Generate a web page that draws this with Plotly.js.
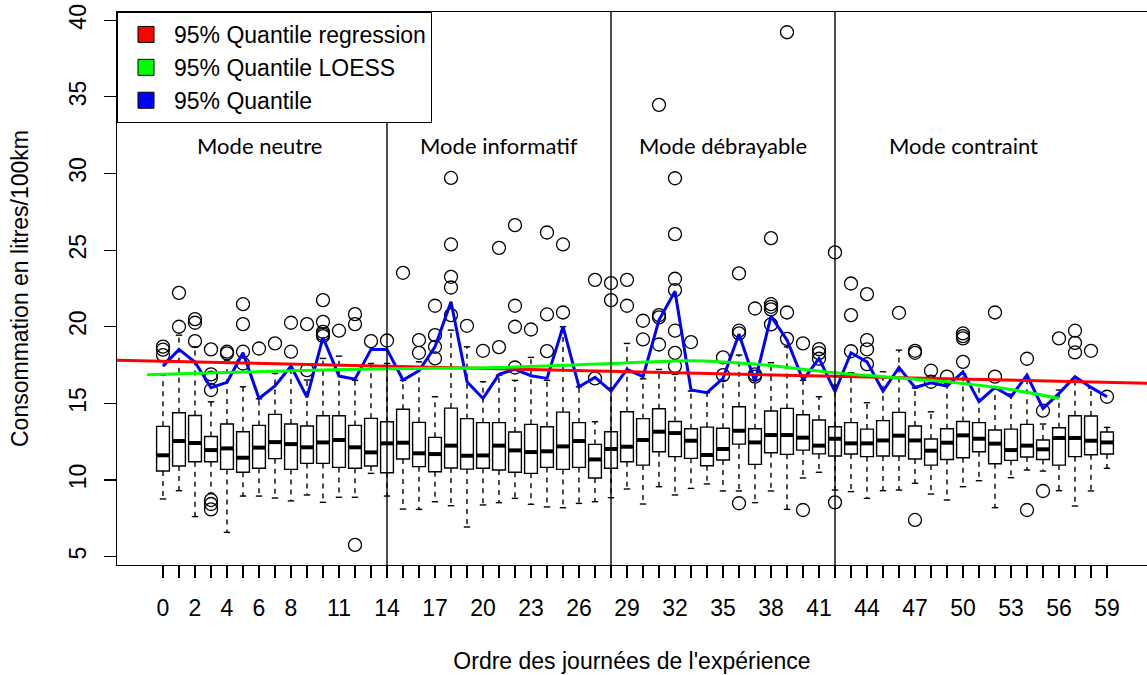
<!DOCTYPE html>
<html>
<head>
<meta charset="utf-8">
<script src="https://cdn.plot.ly/plotly-3.0.1.min.js"></script>
<style>html,body{margin:0;padding:0;background:#fff;}#chart{width:1147px;height:675px;}</style>
</head>
<body>
<div id="chart"></div>
<script>
// ---- data ----
const days = [0,1,2,3,4,5,6,7,8,9,10,11,12,13,14,15,16,17,18,19,20,21,22,23,24,25,26,27,28,29,
              30,31,32,33,34,35,36,37,38,39,40,41,42,43,44,45,46,47,48,49,50,51,52,53,54,55,56,57,58,59];
const tickLabelDays = [0,2,4,6,8,11,14,17,20,23,26,29,32,35,38,41,44,47,50,53,56,59];

const q1 = [10.58,10.91,11.19,11.19,10.69,10.50,10.76,11.39,10.69,11.08,11.08,10.82,10.76,10.91,10.47,
            11.37,10.87,10.54,10.78,10.71,10.76,10.65,10.50,10.43,10.82,10.69,10.82,10.13,10.76,11.19,
            10.97,11.84,11.52,11.41,10.93,11.30,12.34,11.02,11.78,11.67,11.95,11.70,11.56,11.69,11.52,
            11.56,11.56,11.37,10.97,11.34,11.45,11.84,11.06,11.28,11.50,11.34,10.97,11.52,11.65,11.69];
const medians = [11.61,12.54,12.41,11.95,12.06,11.45,12.11,12.47,12.34,12.13,12.45,12.61,12.13,11.80,12.39,
            12.43,11.74,11.69,12.24,11.58,11.60,12.24,11.93,11.82,11.87,12.19,12.54,11.34,12.02,12.17,
            12.61,13.15,13.06,12.56,11.63,12.02,13.21,12.45,12.93,12.93,12.76,12.24,12.69,12.39,12.39,
            12.58,12.89,12.58,11.91,12.43,12.91,12.69,12.37,11.95,12.24,12.00,12.74,12.74,12.56,12.45];
const q3 = [13.50,14.39,14.21,12.84,13.65,13.15,13.56,14.28,13.65,13.52,14.19,14.19,13.56,14.02,13.80,
            14.61,13.76,12.78,14.69,14.00,13.74,13.74,13.13,13.63,13.47,14.43,13.74,12.32,13.15,14.45,
            14.00,14.65,13.82,13.34,13.45,13.37,14.78,13.34,14.50,14.67,14.26,13.91,13.47,13.74,13.32,
            13.87,14.41,13.52,12.67,13.34,13.82,13.74,13.26,13.32,13.63,12.61,13.41,14.19,14.17,13.13];
const lowerWhisker = [8.76,9.30,7.61,9.13,6.58,8.95,8.95,8.82,8.63,9.02,8.54,8.87,8.87,10.43,8.95,
            8.10,8.08,8.58,8.32,6.93,8.37,8.52,8.80,8.41,8.24,8.19,8.47,8.58,8.84,9.41,
            8.43,9.56,9.02,9.45,9.74,9.28,9.28,8.52,9.28,8.08,10.13,10.50,9.34,9.24,8.80,
            9.30,9.34,9.78,9.08,8.69,9.56,9.95,8.19,10.15,10.65,10.58,9.30,8.30,9.28,10.76];
const upperWhisker = [16.84,19.45,18.69,15.10,17.82,16.08,15.30,16.95,17.20,16.52,17.93,18.08,16.50,17.60,17.60,
            16.50,17.71,15.43,19.78,18.69,16.41,16.84,16.50,18.00,16.50,20.00,16.08,13.80,16.00,18.91,
            16.60,17.21,16.89,15.80,15.70,16.50,18.15,16.50,17.65,18.69,16.50,15.43,16.19,17.00,15.04,
            17.06,18.47,16.00,14.45,16.30,16.90,16.19,16.00,15.60,16.60,13.65,15.87,16.60,16.00,13.43];
const quantile95 = [17.43,18.52,17.70,16.02,16.37,18.30,15.32,16.13,17.43,15.39,19.30,16.78,16.58,18.52,18.52,
            16.52,17.13,18.69,21.63,16.41,15.32,16.89,17.22,16.80,16.63,20.00,16.08,16.69,15.80,17.22,
            16.74,20.43,22.32,15.87,15.70,16.63,19.52,16.41,20.69,19.13,16.52,17.93,15.76,18.30,17.71,
            15.80,17.34,16.04,16.34,16.13,17.06,15.11,16.04,15.43,16.84,14.67,15.65,16.74,16.04,15.43];

const outlierDays = [0,0,0, 1,1, 2,2,2, 3,3,3,3,3,3,3, 4,4, 5,5,5,5, 6, 7, 8,8, 9,9, 10,10,10,10,10, 11, 12,12,12, 13, 14,
  15, 16,16, 17,17,17,17, 18,18,18,18,18, 19, 20, 21,21, 22,22,22,22, 23, 24,24,24, 25,25, 27,27, 28,28, 29,29,
  30,30, 31,31,31,31, 32,32,32,32,32,32,32, 33, 35,35, 36,36,36,36, 37,37,37, 38,38,38,38,38, 39,39,39, 40,40, 41,41,41, 42,42,
  43,43,43, 44,44,44,44, 46, 47,47,47, 48,48, 49, 50,50,50,50, 52,52, 54,54, 55,55, 56, 57,57,57, 58, 59];
const outlierValues = [18.70,18.50,18.15, 22.21,20.00, 20.50,20.26,19.06, 18.52,16.89,16.67,15.87,8.69,8.43,8.08, 18.37,18.26,
  21.47,20.17,18.37,17.60, 18.58, 18.91, 20.26,18.37, 20.17,17.17, 21.74,20.32,19.67,19.52,19.39, 19.74, 20.82,20.17,5.76, 19.06, 19.10,
  23.52, 19.13,18.30, 21.37,19.45,18.69,17.93, 29.71,25.37,23.26,22.56,20.76, 20.06, 18.43, 25.15,18.67, 26.63,21.37,20.00,17.34,
  19.82, 26.15,20.80,18.41, 25.37,20.93, 23.06,16.63, 22.85,21.74, 23.06,21.37,
  20.39,19.17, 34.48,20.76,20.61,18.84, 29.69,26.04,23.13,22.39,19.74,18.30,17.43, 19.00, 18.00,16.84, 23.48,19.74,19.56,8.48,
  21.19,16.89,16.74, 25.78,21.47,21.30,21.13,20.15, 39.22,20.93,19.21, 18.91,8.04, 18.54,18.28,17.91, 24.85,8.54,
  22.82,20.76,18.40, 22.13,19.13,18.52,17.56, 20.91, 18.43,18.30,7.39, 17.13,16.41, 16.74, 19.56,19.39,19.24,17.71, 20.93,16.74,
  17.91,8.04, 14.52,9.28, 19.24, 19.74,18.95,18.32, 18.43, 15.43];

// 95% quantile regression coefficients (intercept, slope per day)
const regIntercept = 17.75;
const regSlope = -0.0234;
// 95% quantile LOESS curve, read at several days
const loessDays = [-1, 0, 7, 14, 21, 28, 33, 37, 42, 45, 49, 53, 56];
const loessValues = [16.87, 16.90, 17.10, 17.26, 17.34, 17.60, 17.78, 17.56, 17.00, 16.74, 16.41, 15.90, 15.32];

const modeSplits = [14, 28, 42];
const modeNames = ["Mode neutre", "Mode informatif", "Mode débrayable", "Mode contraint"];
const modeLabelDays = [6, 21, 35, 50];
const modeLabelY = 31.8;

const legendNames = ["95% Quantile regression", "95% Quantile LOESS", "95% Quantile"];
const legendColors = ["#FF0000", "#00FF00", "#0000FF"];

// ---- build traces ----
const X_RANGE = [-2.875, 61.5];
const Y_RANGE = [4.45, 40.54];
const HALF_BOX = 0.4, HALF_CAP = 0.2;
const FS = 23;

const traces = [];
traces.push({
  type: 'box', x: days, q1: q1, median: medians, q3: q3,
  lowerfence: q1, upperfence: q3, boxpoints: false,
  width: 2 * HALF_BOX, fillcolor: 'white',
  line: {color: 'black', width: 1.4}, showlegend: false, hoverinfo: 'skip'
});

// dashed whiskers
const wx = [], wy = [];
days.forEach((d, i) => {
  wx.push(d, d, null, d, d, null);
  wy.push(q3[i], upperWhisker[i], null, q1[i], lowerWhisker[i], null);
});
traces.push({type: 'scatter', mode: 'lines', x: wx, y: wy, showlegend: false, hoverinfo: 'skip',
  line: {color: 'black', width: 1.4, dash: '5px,5px'}});

// staples
const cx = [], cy = [];
days.forEach((d, i) => {
  cx.push(d - HALF_CAP, d + HALF_CAP, null, d - HALF_CAP, d + HALF_CAP, null);
  cy.push(upperWhisker[i], upperWhisker[i], null, lowerWhisker[i], lowerWhisker[i], null);
});
traces.push({type: 'scatter', mode: 'lines', x: cx, y: cy, showlegend: false, hoverinfo: 'skip',
  line: {color: 'black', width: 1.4}});

// thick medians
const mx = [], my = [];
days.forEach((d, i) => { mx.push(d - HALF_BOX, d + HALF_BOX, null); my.push(medians[i], medians[i], null); });
traces.push({type: 'scatter', mode: 'lines', x: mx, y: my, showlegend: false, hoverinfo: 'skip',
  line: {color: 'black', width: 4}});

// outliers
traces.push({type: 'scatter', mode: 'markers', x: outlierDays, y: outlierValues, showlegend: false, hoverinfo: 'skip',
  marker: {symbol: 'circle-open', size: 13, color: 'black', line: {width: 1.3, color: 'black'}}});

// 95% quantile line
traces.push({type: 'scatter', mode: 'lines', x: days, y: quantile95, showlegend: false, hoverinfo: 'skip',
  line: {color: legendColors[2], width: 3}});
// regression
traces.push({type: 'scatter', mode: 'lines', x: X_RANGE,
  y: X_RANGE.map(x => regIntercept + regSlope * x), showlegend: false, hoverinfo: 'skip',
  line: {color: legendColors[0], width: 3}});
// LOESS
traces.push({type: 'scatter', mode: 'lines', x: loessDays, y: loessValues, showlegend: false, hoverinfo: 'skip',
  line: {color: legendColors[1], width: 3, shape: 'spline', smoothing: 0.8}});

// legend entries (squares)
legendNames.forEach((n, i) => {
  traces.push({type: 'scatter', mode: 'markers', x: [null], y: [null], name: n, showlegend: true,
    marker: {symbol: 'square', size: 16, color: legendColors[i], line: {color: 'black', width: 1}}});
});

const shapes = modeSplits.map(d => ({type: 'line', xref: 'x', yref: 'paper', x0: d, x1: d, y0: 0, y1: 1,
  line: {color: 'black', width: 1.4}, layer: 'above'}));

const annotations = modeNames.map((t, i) => ({x: modeLabelDays[i], y: modeLabelY, xref: 'x', yref: 'y',
  text: t, showarrow: false, font: {family: 'Lato, Open Sans, sans-serif', size: 22, color: 'black'}}));

const layout = {
  width: 1147, height: 675,
  margin: {l: 117, r: 0, t: 12, b: 110},
  paper_bgcolor: 'white', plot_bgcolor: 'white',
  font: {family: 'Liberation Sans, Arial, sans-serif', size: FS, color: 'black'},
  showlegend: true,
  legend: {x: 0, y: 1, xanchor: 'left', yanchor: 'top', bgcolor: 'white', bordercolor: 'black', borderwidth: 1,
    font: {size: FS, color: 'black'}, tracegroupgap: 0, itemwidth: 46},
  xaxis: {
    range: X_RANGE, autorange: false, showgrid: false, zeroline: false,
    showline: true, linecolor: 'black', linewidth: 1.4, mirror: true,
    tickmode: 'array', tickvals: days,
    ticktext: days.map(d => tickLabelDays.includes(d) ? String(d) : ''),
    ticks: 'outside', ticklen: 12, tickwidth: 1.2, tickcolor: 'black', ticklabelstandoff: 10,
    tickfont: {size: FS},
    title: {text: "Ordre des journées de l'expérience", font: {size: FS}, standoff: 33},
    automargin: false
  },
  yaxis: {
    range: Y_RANGE, autorange: false, showgrid: false, zeroline: false,
    showline: true, linecolor: 'black', linewidth: 1.4,
    tickmode: 'array', tickvals: [5,10,15,20,25,30,35,40],
    ticks: 'outside', ticklen: 12, tickwidth: 1.2, tickcolor: 'black', tickangle: -90, ticklabelstandoff: 8,
    tickfont: {size: FS},
    title: {text: 'Consommation en litres/100km', font: {size: FS}, standoff: 30},
    automargin: false
  },
  shapes: shapes,
  annotations: annotations
};

Plotly.newPlot('chart', traces, layout, {displayModeBar: false, staticPlot: true});
</script>
</body>
</html>
